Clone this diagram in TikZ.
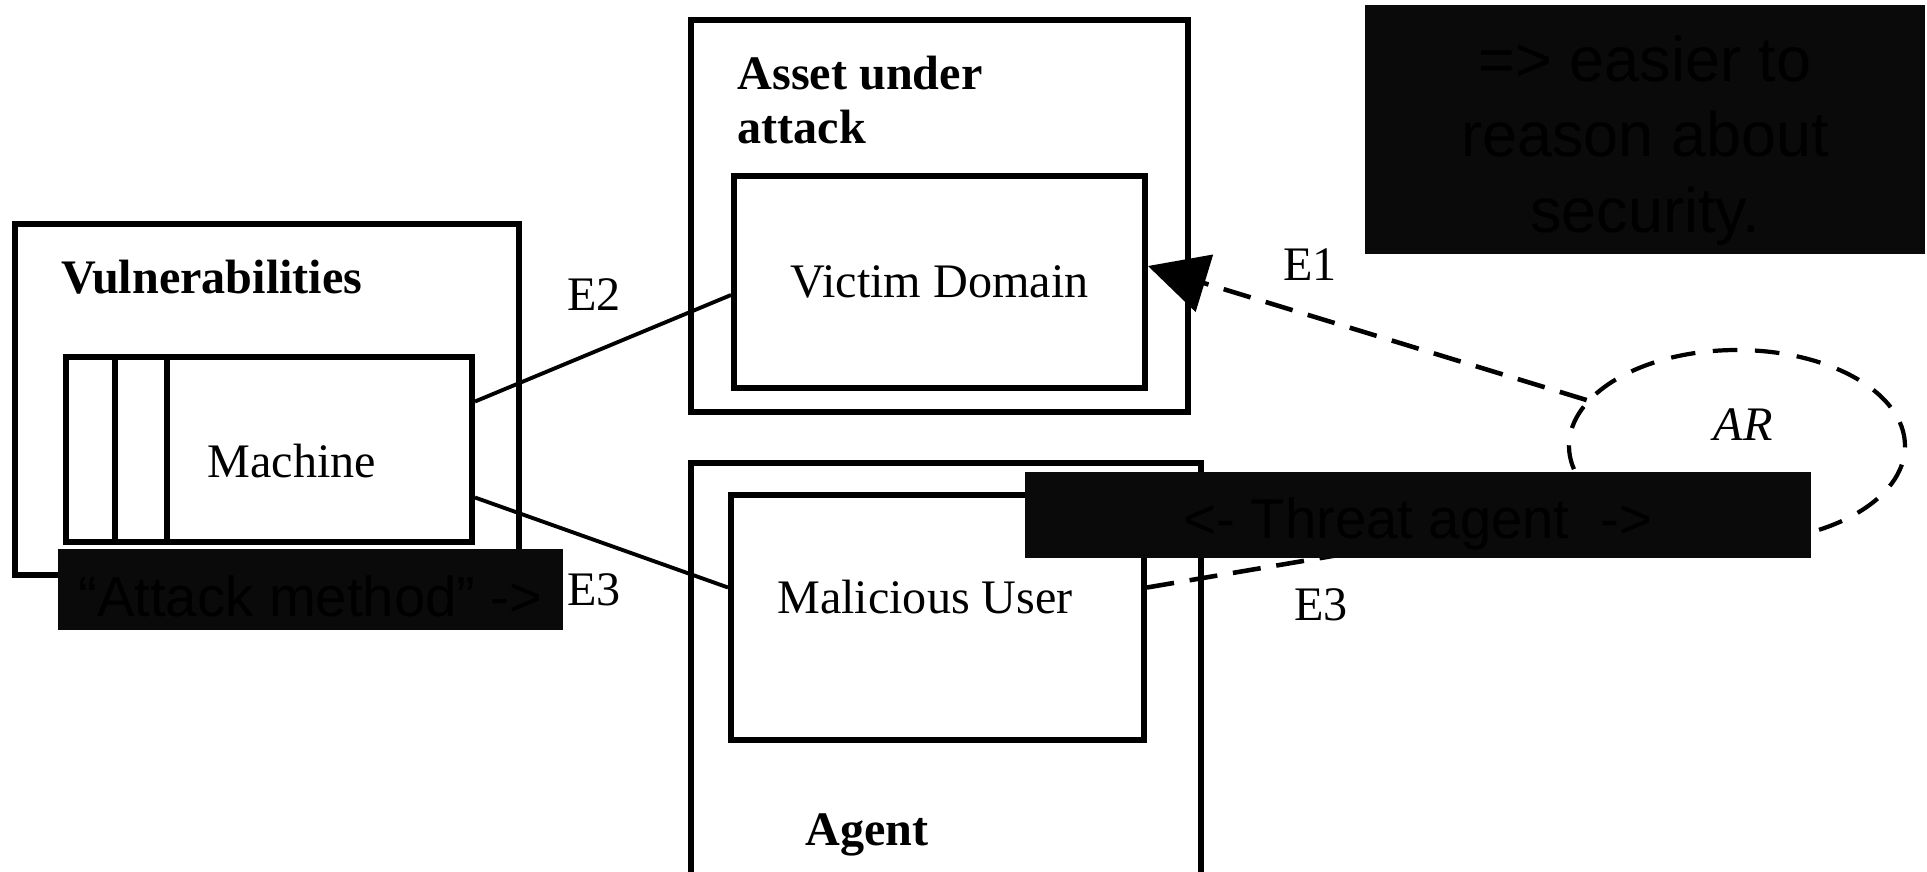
\documentclass[tikz,border=0pt]{standalone}
\usepackage{fontspec}
\setmainfont{Liberation Serif}
\setsansfont{Liberation Sans}
\usepackage{tikz}
\usetikzlibrary{arrows.meta, shapes, positioning}

\definecolor{maskfill}{RGB}{10,10,10}

\tikzset{
    frame/.style={draw, line width=1.7pt, inner sep=0pt},
    card/.style={frame, fill=white},
    txt/.style={inner sep=0pt, font=\fontsize{13.7pt}{15.5pt}\selectfont},
    boldtxt/.style={txt, font=\fontsize{13.7pt}{15.5pt}\selectfont\bfseries},
    mask/.style={fill=maskfill, inner sep=0pt},
    masktxt/.style={text=black, inner sep=0pt, font=\sffamily\fontsize{16pt}{19pt}\selectfont},
    link/.style={line width=1.1pt},
    dashlink/.style={line width=1.3pt, dash pattern=on 8pt off 4.5pt},
}

\begin{document}
\begin{tikzpicture}

    \clip (0,0) rectangle (19.27,-8.71);

    % Vulnerabilities with stacked machines
    \node[frame, minimum width=5.04cm, minimum height=3.51cm] (vuln) at (2.67,-3.995) {};
    \node[boldtxt, anchor=north west] (vulntxt) at (0.61,-2.59) {Vulnerabilities};
    \node[card, minimum width=4.06cm, minimum height=1.85cm] (cardback) at (2.69,-4.495) {};
    \node[card, minimum width=3.57cm, minimum height=1.85cm] (cardmid) at (2.935,-4.495) {};
    \node[card, minimum width=3.05cm, minimum height=1.85cm] (machine) at (3.195,-4.495) {};
    \node[txt] (machinetxt) at (2.92,-4.61) {Machine};

    % Asset under attack
    \node[frame, minimum width=4.97cm, minimum height=3.92cm] (asset) at (9.395,-2.16) {};
    \node[boldtxt, anchor=north west, align=left] (assettxt) at (7.37,-0.55) {Asset under\\attack};
    \node[frame, txt, minimum width=4.11cm, minimum height=2.12cm] (victim) at (9.395,-2.82) {Victim Domain};

    % Agent
    \node[frame, minimum width=5.10cm, minimum height=4.37cm] (agent) at (9.46,-6.815) {};
    \node[frame, minimum width=4.13cm, minimum height=2.45cm] (mal) at (9.375,-6.175) {};
    \node[txt] (maltxt) at (9.25,-5.97) {Malicious User};
    \node[boldtxt, anchor=base west] (agenttxt) at (8.05,-8.45) {Agent};

    % AR
    \node[ellipse, draw, line width=1.2pt, dash pattern=on 7pt off 5pt,
          minimum width=3.36cm, minimum height=1.92cm] (ar) at (17.37,-4.46) {};
    \node[txt] (artxt) at (17.43,-4.25) {\textit{AR}};

    % connectors
    \draw[link] ([yshift=4.8mm]machine.east) -- ([yshift=-1.3mm]victim.west);
    \draw[link] ([yshift=-4.8mm]machine.east) -- ([yshift=3mm]mal.west);
    \draw[dashlink, -{Triangle[length=5.9mm, width=5.9mm]}] (ar) -- ([yshift=1.6mm]victim.east);
    \draw[dashlink] (ar.206) -- ([yshift=3mm]mal.east);

    \node[txt] (e2) at (5.94,-2.95) {E2};
    \node[txt] (e3a) at (5.94,-5.90) {E3};
    \node[txt] (e1) at (13.10,-2.65) {E1};
    \node[txt] (e3b) at (13.21,-6.05) {E3};

    % masked notes
    \node[mask, minimum width=5.60cm, minimum height=2.49cm] (easier) at (16.45,-1.295) {};
    \node[masktxt, align=center, font=\sffamily\fontsize{17.9pt}{21.5pt}\selectfont]
        (easiertxt) at ([yshift=-1.1mm]easier.center) {=> easier to\\reason about\\security.};
    \node[mask, minimum width=7.86cm, minimum height=0.86cm] (threat) at (14.18,-5.15) {};
    \node[masktxt] (threattxt) at ([yshift=-0.9mm]threat.center) {<- Threat agent~ ->};
    \node[mask, minimum width=5.05cm, minimum height=0.81cm] (attack) at (3.105,-5.895) {};
    \node[masktxt] (attacktxt) at ([yshift=-0.7mm]attack.center) {“Attack method” ->};

\end{tikzpicture}
\end{document}
